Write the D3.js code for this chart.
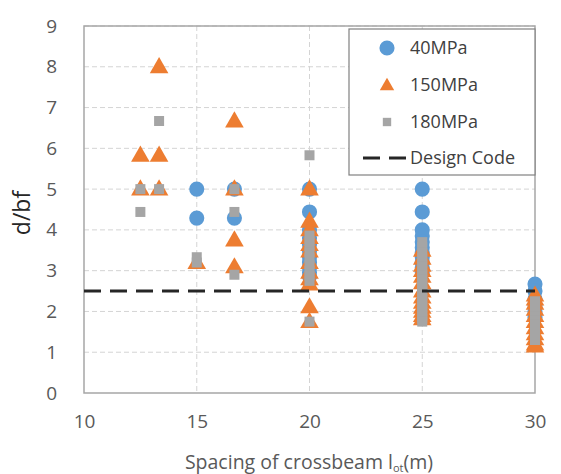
<!DOCTYPE html>
<html>
<head>
<meta charset="utf-8">
<script src="https://cdn.jsdelivr.net/npm/d3@7"></script>
<style>
  html, body { margin: 0; padding: 0; background: #fff; }
  svg { display: block; font-family: "Open Sans", "DejaVu Sans", sans-serif; }
</style>
</head>
<body>
<svg id="chart" width="561" height="474"></svg>
<script>
// Crossbeam spacing (m) and d/bf ratios for each steel strength
const series40 = [
  [15, 5.0], [15, 4.29],
  [16.67, 5.0], [16.67, 4.29],
  [20, 5.0], [20, 4.44], [20, 4.0], [20, 3.8], [20, 3.64], [20, 3.48], [20, 3.33], [20, 3.2], [20, 3.08], [20, 2.96], [20, 2.86],
  [25, 5.0], [25, 4.44], [25, 4.0], [25, 3.85], [25, 3.7], [25, 3.57], [25, 3.45], [25, 3.33], [25, 3.2], [25, 3.08], [25, 2.96],
  [30, 2.67], [30, 2.5], [30, 2.3], [30, 2.15], [30, 2.0], [30, 1.85]
];
const series150 = [
  [12.5, 5.83], [12.5, 5.0],
  [13.33, 8.0], [13.33, 5.83], [13.33, 5.0],
  [15, 3.2],
  [16.67, 6.67], [16.67, 5.0], [16.67, 3.75], [16.67, 3.09],
  [20, 5.0], [20, 4.21], [20, 4.0], [20, 3.81], [20, 3.64], [20, 3.48], [20, 3.2], [20, 2.96], [20, 2.8], [20, 2.67], [20, 2.11], [20, 1.75],
  [25, 3.5], [25, 3.3], [25, 3.13], [25, 3.0], [25, 2.86], [25, 2.7], [25, 2.5], [25, 2.35], [25, 2.22], [25, 2.1], [25, 2.0], [25, 1.9], [25, 1.82],
  [30, 2.4], [30, 2.3], [30, 2.2], [30, 2.05], [30, 1.9], [30, 1.75], [30, 1.6], [30, 1.45], [30, 1.33], [30, 1.2], [30, 1.15]
];
const series180 = [
  [12.5, 5.0], [12.5, 4.44],
  [13.33, 6.67], [13.33, 5.0],
  [15, 3.33], [15, 3.2],
  [16.67, 5.0], [16.67, 4.44], [16.67, 2.9],
  [20, 5.83], [20, 3.86], [20, 3.72], [20, 3.6], [20, 3.45], [20, 3.3], [20, 3.15], [20, 3.0], [20, 2.88], [20, 2.75], [20, 1.75],
  [25, 3.7], [25, 3.58], [25, 3.45], [25, 3.32], [25, 3.2], [25, 3.1], [25, 3.0], [25, 2.88], [25, 2.78], [25, 2.68], [25, 2.6], [25, 2.5], [25, 2.4], [25, 2.3], [25, 2.2], [25, 2.1], [25, 2.0], [25, 1.9], [25, 1.82], [25, 1.75],
  [30, 2.25], [30, 2.12], [30, 2.0], [30, 1.88], [30, 1.78], [30, 1.68], [30, 1.6], [30, 1.52], [30, 1.45], [30, 1.38], [30, 1.3]
];
const designCode = 2.5;
const xTicks = [10, 15, 20, 25, 30];
const yTicks = [0, 1, 2, 3, 4, 5, 6, 7, 8, 9];
const legendLabels = ["40MPa", "150MPa", "180MPa", "Design Code"];

const svg = d3.select("#chart");
const plot = { left: 84, top: 26, right: 535, bottom: 393 };

const x = d3.scaleLinear().domain([10, 30]).range([plot.left, plot.right]);
const y = d3.scaleLinear().domain([0, 9]).range([plot.bottom, plot.top]);

const textColor = "#595959";
const colors = { c40: "#5B9BD5", c150: "#ED7D31", c180: "#A5A5A5" };

// Gridlines
const grid = svg.append("g");
grid.selectAll("line.h").data(yTicks.filter(d => d > 0)).join("line")
  .attr("x1", plot.left).attr("x2", plot.right)
  .attr("y1", d => y(d)).attr("y2", d => y(d))
  .attr("stroke", "#d4d4d4").attr("stroke-width", 1).attr("stroke-dasharray", "5,3");
grid.selectAll("line.v").data(xTicks.filter(d => d > 10 && d < 30)).join("line")
  .attr("x1", d => x(d)).attr("x2", d => x(d))
  .attr("y1", plot.top).attr("y2", plot.bottom)
  .attr("stroke", "#d4d4d4").attr("stroke-width", 1).attr("stroke-dasharray", "5,3");

// Axes (labels only; the frame is drawn as a rectangle)
const xAxis = d3.axisBottom(x).tickValues(xTicks).tickSize(0).tickPadding(22);
const gx = svg.append("g").attr("transform", `translate(0,${plot.bottom})`).call(xAxis);
gx.select(".domain").remove();
gx.selectAll("text").attr("fill", textColor).attr("font-size", 19)
  .attr("font-family", "Open Sans, sans-serif");

const yAxis = d3.axisLeft(y).tickValues(yTicks).tickSize(0).tickPadding(27);
const gy = svg.append("g").attr("transform", `translate(${plot.left},0)`).call(yAxis);
gy.select(".domain").remove();
gy.selectAll("text").attr("fill", textColor).attr("font-size", 19)
  .attr("font-family", "Open Sans, sans-serif");

// Plot frame
svg.append("rect")
  .attr("x", plot.left).attr("y", plot.top)
  .attr("width", plot.right - plot.left).attr("height", plot.bottom - plot.top)
  .attr("fill", "none").attr("stroke", "#a6a6a6").attr("stroke-width", 1.5);

// Markers
const circleSym = d3.symbol().type(d3.symbolCircle).size(180);
const triSym = d3.symbol().type(d3.symbolTriangle).size(150);
const sqSym = d3.symbol().type(d3.symbolSquare).size(100);

const marks = svg.append("g");
marks.append("g").selectAll("path").data(series40).join("path")
  .attr("d", circleSym).attr("transform", d => `translate(${x(d[0])},${y(d[1])})`)
  .attr("fill", colors.c40);
marks.append("g").selectAll("path").data(series150).join("path")
  .attr("d", triSym).attr("transform", d => `translate(${x(d[0])},${y(d[1]) + 1})`)
  .attr("fill", colors.c150);
marks.append("g").selectAll("path").data(series180).join("path")
  .attr("d", sqSym).attr("transform", d => `translate(${x(d[0])},${y(d[1])})`)
  .attr("fill", colors.c180);

// Design code limit
svg.append("line")
  .attr("x1", x(10)).attr("x2", x(30))
  .attr("y1", y(designCode)).attr("y2", y(designCode))
  .attr("stroke", "#262626").attr("stroke-width", 3).attr("stroke-dasharray", "17,9");

// Legend
const lg = svg.append("g");
lg.append("rect").attr("x", 349).attr("y", 29).attr("width", 186).attr("height", 146)
  .attr("fill", "#fff").attr("stroke", "#808080").attr("stroke-width", 1.2);
const rows = [48, 85, 122, 158];
lg.append("path").attr("d", circleSym).attr("transform", `translate(387,${rows[0]})`).attr("fill", colors.c40);
lg.append("path").attr("d", d3.symbol().type(d3.symbolTriangle).size(90)).attr("transform", `translate(387,${rows[1] + 1})`).attr("fill", colors.c150);
lg.append("path").attr("d", d3.symbol().type(d3.symbolSquare).size(70)).attr("transform", `translate(387,${rows[2]})`).attr("fill", colors.c180);
lg.append("line").attr("x1", 363).attr("x2", 408).attr("y1", rows[3]).attr("y2", rows[3])
  .attr("stroke", "#262626").attr("stroke-width", 3).attr("stroke-dasharray", "17,9");
lg.selectAll("text.lbl").data(legendLabels).join("text")
  .attr("x", 410).attr("y", (d, i) => rows[i]).attr("dy", "0.35em")
  .attr("font-size", 18).attr("fill", "#404040").text(d => d);

// Axis titles
const xt = svg.append("text").attr("x", 309).attr("y", 469).attr("text-anchor", "middle")
  .attr("font-size", 19.5).attr("fill", textColor);
xt.append("tspan").text("Spacing of crossbeam l");
xt.append("tspan").attr("font-size", 11).attr("dy", 3).text("ot");
xt.append("tspan").attr("dy", -3).text("(m)");

svg.append("text").attr("transform", "translate(30,213) rotate(-90)")
  .attr("text-anchor", "middle").attr("font-size", 23).attr("fill", "#262626").text("d/bf");
</script>
</body>
</html>
